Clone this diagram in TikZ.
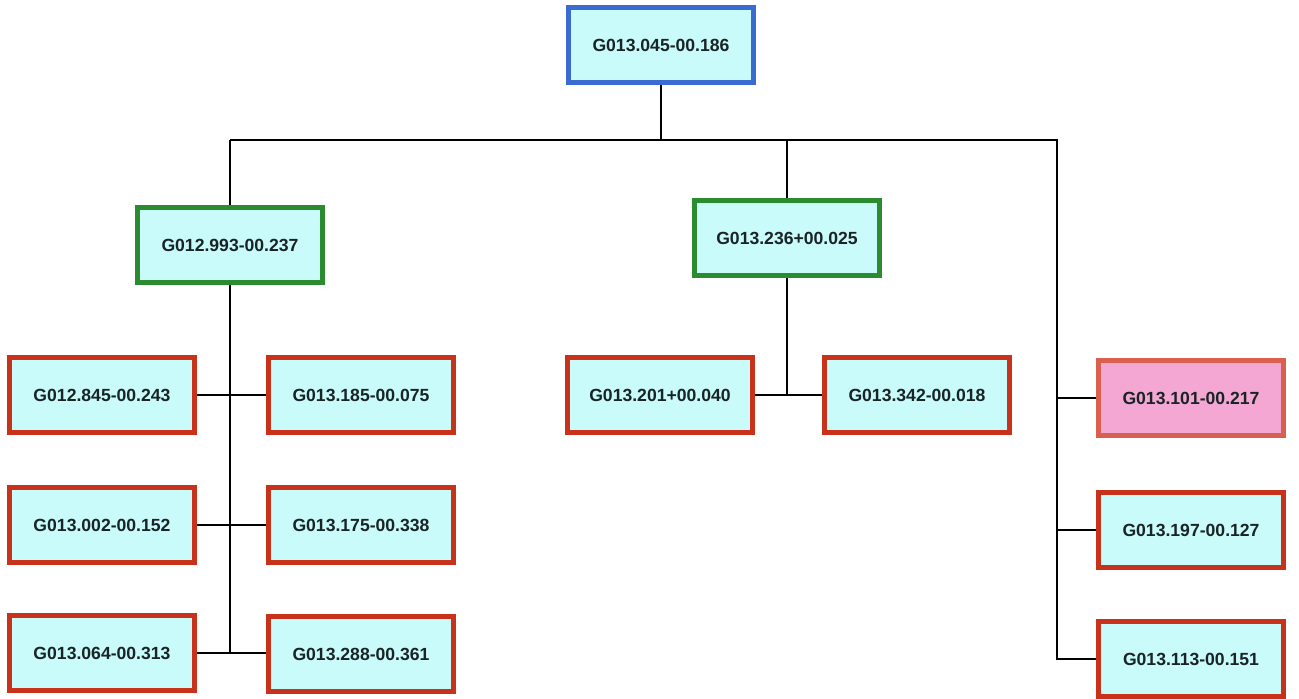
\documentclass[tikz,border=0pt]{standalone}
\usepackage{fontspec}
\setmainfont{Liberation Sans}
\definecolor{boxfill}{HTML}{C9FBFA}
\definecolor{bluebd}{HTML}{3A6BD0}
\definecolor{greenbd}{HTML}{2A8C2E}
\definecolor{redbd}{HTML}{C8321A}
\definecolor{pinkfill}{HTML}{F4A7D2}
\definecolor{pinkbd}{HTML}{D9604F}
\definecolor{txt}{HTML}{1A2426}
\tikzset{
  gbox/.style={draw, fill=boxfill, line width=2.5pt, minimum width=92.5pt, minimum height=37.5pt,
    inner sep=0pt, text=txt, font=\fontsize{8.8}{10}\selectfont\bfseries},
  topbox/.style={gbox, draw=bluebd},
  midbox/.style={gbox, draw=greenbd},
  leafbox/.style={gbox, draw=redbd},
  pinkbox/.style={gbox, draw=pinkbd, fill=pinkfill},
  conn/.style={line width=1.25pt, black}
}
\begin{document}
\begin{tikzpicture}[x=0.5pt,y=-0.5pt]
\useasboundingbox[fill=white] (0,0) rectangle (1299,699);
% nodes
\node[topbox] (top) at (661,45) {G013.045-00.186};
\node[midbox] (g1) at (230,245) {G012.993-00.237};
\node[midbox] (g2) at (787,238) {G013.236+00.025};
\node[leafbox] (a1) at (102,395) {G012.845-00.243};
\node[leafbox] (b1) at (361,395) {G013.185-00.075};
\node[leafbox] (a2) at (102,525) {G013.002-00.152};
\node[leafbox] (b2) at (361,525) {G013.175-00.338};
\node[leafbox] (a3) at (102,653) {G013.064-00.313};
\node[leafbox] (b3) at (361,654) {G013.288-00.361};
\node[leafbox] (c1) at (660,395) {G013.201+00.040};
\node[leafbox] (c2) at (917,395) {G013.342-00.018};
\node[pinkbox] (r1) at (1191,398) {G013.101-00.217};
\node[leafbox] (r2) at (1191,530) {G013.197-00.127};
\node[leafbox] (r3) at (1191,659) {G013.113-00.151};
% connectors
\coordinate (bus) at (661,140);
\coordinate (rt) at (1057,140);
\draw[conn] (top.south) -- (bus);
\draw[conn] (g1.north |- bus) -- (rt) -- (rt |- r3.west) -- (r3.west);
\draw[conn] (g1.north) -- (g1.north |- bus);
\draw[conn] (g2.north) -- (g2.north |- bus);
\draw[conn] (rt |- r1.west) -- (r1.west);
\draw[conn] (rt |- r2.west) -- (r2.west);
\draw[conn] (g1.south) -- (g1.south |- a3.east);
\draw[conn] (a1.east) -- (b1.west);
\draw[conn] (a2.east) -- (b2.west);
\draw[conn] (a3.east) -- (a3.east -| b3.west);
\draw[conn] (g2.south) -- (g2.south |- c1.east);
\draw[conn] (c1.east) -- (c2.west);
\end{tikzpicture}
\end{document}
